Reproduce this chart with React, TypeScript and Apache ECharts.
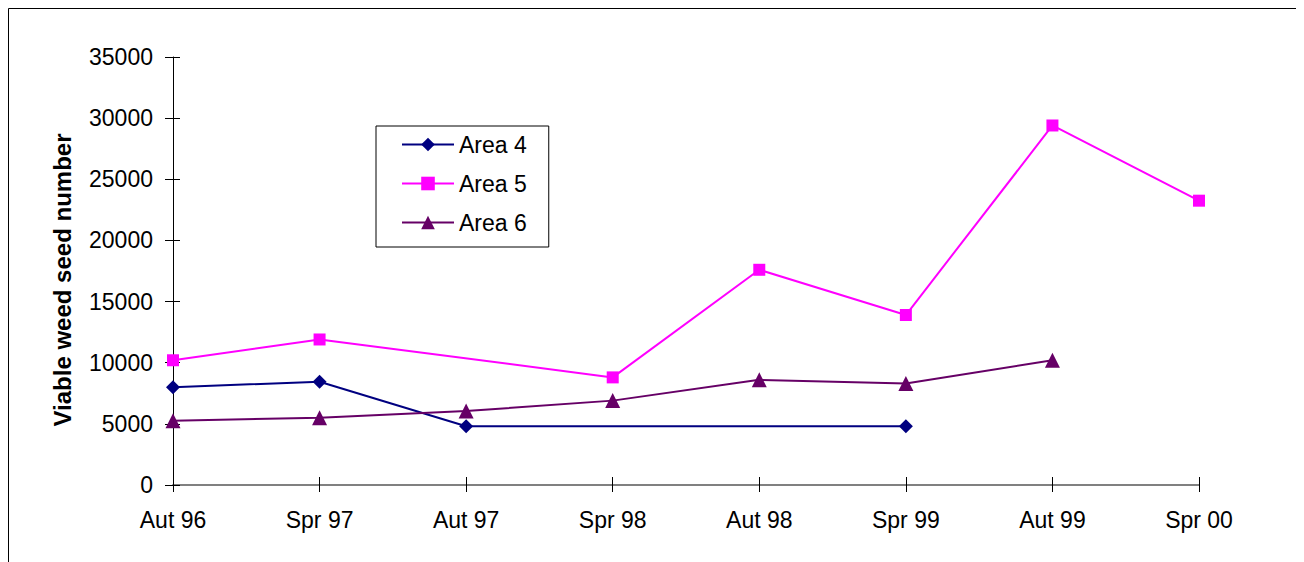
import React, { useEffect, useRef } from "react";
import * as echarts from "echarts";

const categories = ["Aut 96", "Spr 97", "Aut 97", "Spr 98", "Aut 98", "Spr 99", "Aut 99", "Spr 00"];
const area4 = [8000, 8450, 4800, null, null, 4800, null, null];
const area5 = [10200, 11900, null, 8800, 17600, 13900, 29400, 23250];
const area6 = [5250, 5500, 6050, 6900, 8600, 8300, 10200, null];
const yTicks = { min: 0, max: 35000, interval: 5000 };
const yTitle = "Viable weed seed number";

const FONT = "'Liberation Sans', Arial, sans-serif";
const FS = 23;

export default function App() {
  const ref = useRef<HTMLDivElement>(null);
  useEffect(() => {
    if (!ref.current) return;
    const chart = echarts.init(ref.current, null, { renderer: "svg" });
    const mk = (name: string, data: any[], color: string, symbol: string, size: number) => ({
      name,
      type: "line",
      data,
      connectNulls: true,
      symbol,
      symbolSize: size,
      showAllSymbol: true,
      itemStyle: { color },
      lineStyle: { color, width: 2 },
      emphasis: { disabled: true },
    });
    chart.setOption({
      animation: false,
      textStyle: { fontFamily: FONT, color: "#000" },
      graphic: [
        {
          type: "rect",
          shape: { x: 0.5, y: 0.5, width: 1400, height: 700 },
          style: { fill: "none", stroke: "#000", lineWidth: 1 },
          silent: true,
        },
        {
          type: "text",
          x: 54,
          y: 272,
          rotation: Math.PI / 2,
          style: {
            text: yTitle,
            fontFamily: FONT,
            fontSize: 24,
            fontWeight: "bold",
            fill: "#000",
            align: "center",
            verticalAlign: "middle",
          },
          silent: true,
        },
      ],
      grid: { left: 165, right: 105, top: 49, bottom: 77 },
      legend: {
        orient: "vertical",
        left: 368,
        top: 118,
        padding: [7, 22, 13, 25],
        itemGap: 16,
        itemWidth: 52,
        itemHeight: 17,
        borderColor: "#000",
        borderWidth: 1,
        backgroundColor: "#fff",
        textStyle: { fontFamily: FONT, fontSize: FS, color: "#000" },
        data: ["Area 4", "Area 5", "Area 6"],
      },
      xAxis: [
        {
          type: "category",
          data: categories,
          boundaryGap: false,
          axisLine: { lineStyle: { color: "#808080", width: 2 } },
          axisTick: { show: true, length: 7, alignWithLabel: true, lineStyle: { color: "#000" } },
          axisLabel: { fontFamily: FONT, fontSize: FS, color: "#000", margin: 23 },
          splitLine: { show: false },
        },
        {
          type: "category",
          data: categories,
          boundaryGap: false,
          position: "bottom",
          axisLine: { show: false },
          axisTick: { show: true, inside: true, length: 8, lineStyle: { color: "#000" } },
          axisLabel: { show: false },
          splitLine: { show: false },
        },
      ],
      yAxis: [
        {
          type: "value",
          ...yTicks,
          axisLine: { show: true, lineStyle: { color: "#000", width: 1 } },
          axisTick: { show: true, length: 8, lineStyle: { color: "#000" } },
          axisLabel: { fontFamily: FONT, fontSize: FS, color: "#000", margin: 20, formatter: (v: number) => String(v) },
          splitLine: { show: false },
        },
        {
          type: "value",
          ...yTicks,
          position: "left",
          axisLine: { show: false },
          axisTick: { show: true, inside: true, length: 7, lineStyle: { color: "#000" } },
          axisLabel: { show: false },
          splitLine: { show: false },
        },
      ],
      series: [
        mk("Area 4", area4, "#000080", "diamond", 14),
        mk("Area 5", area5, "#FF00FF", "rect", 12),
        mk("Area 6", area6, "#660066", "triangle", 15),
      ],
    });
    return () => chart.dispose();
  }, []);
  return <div ref={ref} style={{ width: 1296, height: 554 }} />;
}
